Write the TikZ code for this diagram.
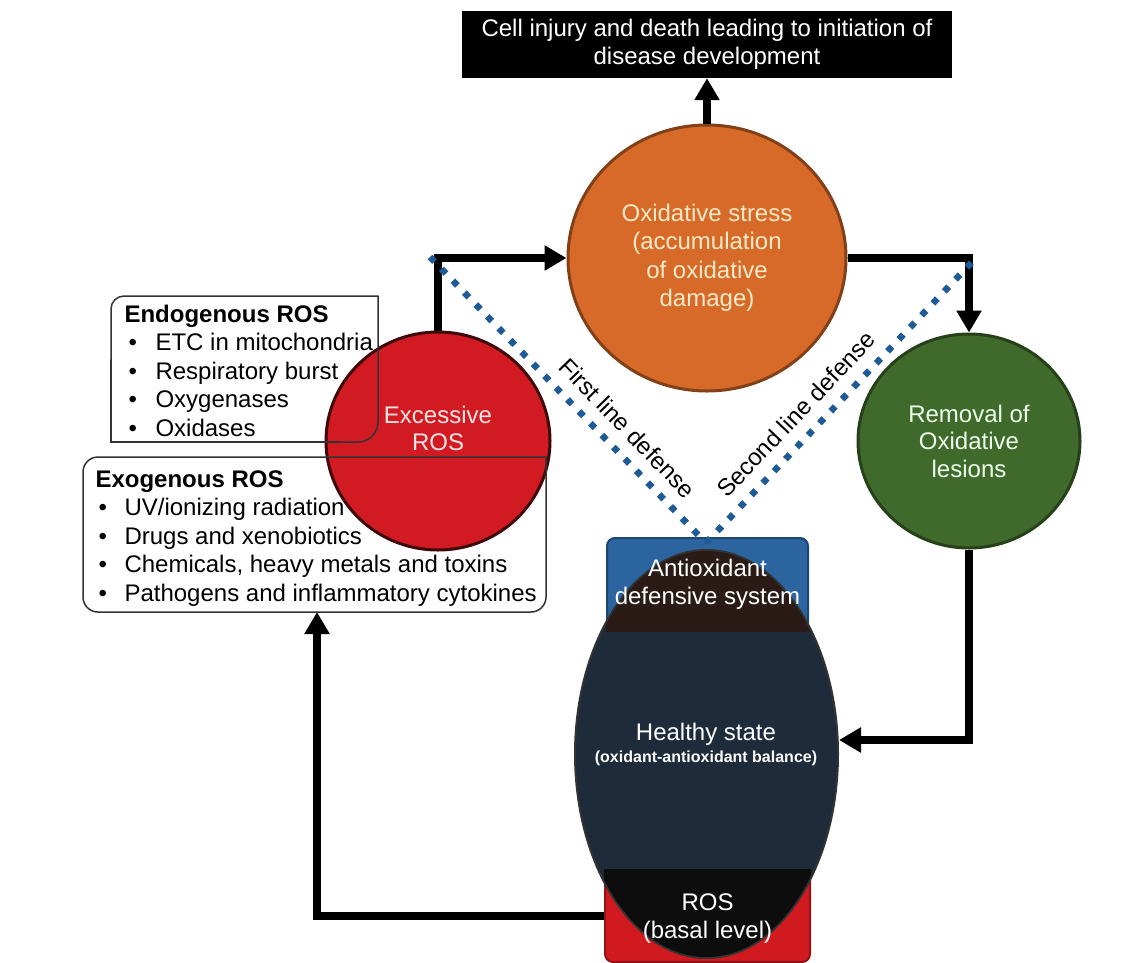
\documentclass[tikz,border=0pt]{standalone}
\usepackage{fontspec}
\setmainfont{Liberation Sans}
\usetikzlibrary{arrows.meta,shapes.geometric}
\definecolor{oxorange}{RGB}{215,106,40}
\definecolor{oxcream}{RGB}{250,234,200}
\definecolor{exred}{RGB}{210,26,34}
\definecolor{lesgreen}{RGB}{64,106,44}
\definecolor{defblue}{RGB}{44,100,160}
\definecolor{healthnavy}{RGB}{30,43,58}
\definecolor{capbrown}{RGB}{42,27,22}
\definecolor{basalred}{RGB}{208,26,32}
\definecolor{dotblue}{RGB}{30,90,150}

\begin{document}
\begin{tikzpicture}[x=1pt,y=-1pt,
  every node/.style={font=\fontsize{24}{28}\selectfont},
  bubble/.style={ellipse,inner sep=0pt,line width=3pt,align=center},
  flow/.style={line width=8pt,-{Triangle[width=24pt,length=22pt]}},
  guard/.style={draw=dotblue,line width=6.5pt,dash pattern=on 6.5pt off 10pt},
  listline/.style={draw=black!80,line width=1.5pt,line cap=round}]
  \useasboundingbox (0,0) rectangle (1145,962);

  \node[fill=black,text=white,minimum width=490pt,minimum height=67pt,align=center] (injury) at (707,44.5) {Cell injury and death leading to initiation of\\disease development};
  \node[bubble,fill=oxorange,draw=oxorange!60!black,text=oxcream,minimum width=278pt,minimum height=266pt,font=\fontsize{24}{28.5}\selectfont] (stress) at (707,258) {Oxidative stress\\(accumulation\\of oxidative\\damage)};
  \node[bubble,fill=exred,draw=exred!30!black,minimum width=224pt,minimum height=218pt] (excess) at (438,441) {};
  \node[text=white!90!red,align=center,font=\fontsize{24}{27}\selectfont] (excesslbl) at (438,428) {Excessive\\ROS};
  \node[bubble,fill=lesgreen,draw=lesgreen!60!black,text=white!92!green,minimum width=222pt,minimum height=214pt,font=\fontsize{24}{27.5}\selectfont] (removal) at (969,441) {Removal of\\Oxidative\\lesions};

  % healthy state with its two caps
  \node[fill=defblue,draw=defblue!70!black,line width=2pt,rounded corners=8pt,minimum width=201pt,minimum height=92pt] (antiox) at (707.5,584) {};
  \node[fill=basalred,draw=basalred!70!black,line width=2pt,rounded corners=8pt,minimum width=205pt,minimum height=92pt] (basal) at (707.5,916) {};
  \node[ellipse,fill=healthnavy,draw=black!80,line width=2pt,inner sep=0pt,minimum width=263pt,minimum height=408pt] (healthy) at (706.5,754) {};
  \begin{scope}
    \clip (antiox.south west) rectangle (antiox.north east);
    \fill[capbrown] (healthy.center) ellipse (130.5 and 203);
  \end{scope}
  \begin{scope}
    \clip (basal.south west) rectangle (basal.north east);
    \fill[black!95] (healthy.center) ellipse (130.5 and 203);
  \end{scope}
  \node[text=white,align=center] (antioxlbl) at (antiox.center) {Antioxidant\\defensive system};
  \node[text=white,align=center] (basallbl) at (707.5,919) {ROS\\(basal level)};
  \node[text=white] (healthylbl) at (706,734) {Healthy state};
  \node[text=white,font=\bfseries\fontsize{16}{18}\selectfont] (balancelbl) at (706,758) {(oxidant-antioxidant balance)};

  % sources of ROS
  \draw[listline,rounded corners=13pt] (378,296) -- (111,296) -- (111,360);
  \draw[listline] (111,360) -- (111,442) -- (340,442);
  \draw[listline,rounded corners=20pt] (340,442) -- (378,442) -- (378,296);
  \draw[listline,rounded corners=15pt] (547,457) -- (83,457) -- (83,612) -- (546,612) -- (546,457);

  \node[anchor=base west,font=\bfseries\fontsize{24}{28}\selectfont] (endotitle) at (121,322) {Endogenous ROS};
  \foreach \txt [count=\i] in {ETC in mitochondria, Respiratory burst, Oxygenases, Oxidases} {
    \node[anchor=base west] (endobul\i) at (125,322+28.5*\i) {\textbullet};
    \node[anchor=base west] (endo\i) at (152,322+28.5*\i) {\txt};
  }
  \node[anchor=base west,font=\bfseries\fontsize{24}{28}\selectfont] (exotitle) at (92,487) {Exogenous ROS};
  \foreach \txt [count=\i] in {UV/ionizing radiation, Drugs and xenobiotics, {Chemicals, heavy metals and toxins}, Pathogens and inflammatory cytokines} {
    \node[anchor=base west] (exobul\i) at (95,487+28.5*\i) {\textbullet};
    \node[anchor=base west] (exo\i) at (121,487+28.5*\i) {\txt};
  }

  \coordinate (exobottom) at (317,612);
  \coordinate (firsttop) at (430,257);
  \coordinate (secondtop) at (973,261);
  \coordinate (meet) at (706,543);

  \draw[flow] (excess.north) |- (stress.west);
  \draw[flow] (stress.north) -- (injury.south);
  \draw[flow] (stress.east) -| (removal.north);
  \draw[flow] (removal.south) |- ([yshift=14pt]healthy.east);
  \draw[flow] (basal.west) -| (exobottom);

  \draw[guard] (firsttop) -- (meet) node[pos=0.655,sloped,above=8pt,text=black] (firstlbl) {First line defense};
  \draw[guard] (meet) -- (secondtop) node[pos=0.4,sloped,above=8pt,text=black] (secondlbl) {Second line defense};
\end{tikzpicture}
\end{document}
